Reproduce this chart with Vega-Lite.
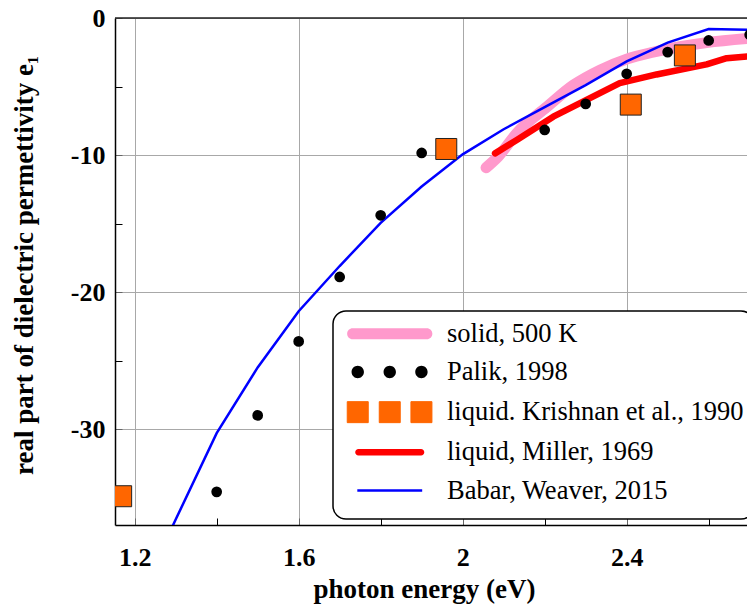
{
  "$schema": "https://vega.github.io/schema/vega-lite/v6.json",
  "width": 632,
  "height": 507,
  "autosize": {"type": "none"},
  "padding": {"left": 115, "top": 18, "right": 0, "bottom": 79},
  "background": "white",
  "config": {
    "view": {"stroke": null},
    "font": "Liberation Serif",
    "axis": {
      "labelFont": "Liberation Serif",
      "labelFontWeight": "bold",
      "labelFontSize": 26,
      "labelColor": "black",
      "titleFont": "Liberation Serif",
      "titleFontWeight": "bold",
      "titleFontSize": 27,
      "titleColor": "black",
      "domainColor": "black",
      "domainWidth": 1.5,
      "tickSize": -7,
      "tickWidth": 1,
      "gridColor": "#a8a8a8",
      "gridWidth": 1
    }
  },
  "data": {
    "values": [
      {"series": "solid, 500 K", "e": 2.057, "eps": -10.93},
      {"series": "solid, 500 K", "e": 2.087, "eps": -10.1},
      {"series": "solid, 500 K", "e": 2.132, "eps": -8.4},
      {"series": "solid, 500 K", "e": 2.205, "eps": -6.5},
      {"series": "solid, 500 K", "e": 2.27, "eps": -4.9},
      {"series": "solid, 500 K", "e": 2.335, "eps": -3.8},
      {"series": "solid, 500 K", "e": 2.4, "eps": -3.0},
      {"series": "solid, 500 K", "e": 2.464, "eps": -2.5},
      {"series": "solid, 500 K", "e": 2.53, "eps": -2.1},
      {"series": "solid, 500 K", "e": 2.595, "eps": -1.8},
      {"series": "solid, 500 K", "e": 2.694, "eps": -1.5},
      {"series": "Palik, 1998", "e": 1.4, "eps": -34.58},
      {"series": "Palik, 1998", "e": 1.5, "eps": -29.0},
      {"series": "Palik, 1998", "e": 1.6, "eps": -23.6},
      {"series": "Palik, 1998", "e": 1.7, "eps": -18.9},
      {"series": "Palik, 1998", "e": 1.8, "eps": -14.4},
      {"series": "Palik, 1998", "e": 1.9, "eps": -9.85},
      {"series": "Palik, 1998", "e": 2.2, "eps": -8.17},
      {"series": "Palik, 1998", "e": 2.3, "eps": -6.27},
      {"series": "Palik, 1998", "e": 2.4, "eps": -4.07},
      {"series": "Palik, 1998", "e": 2.5, "eps": -2.49},
      {"series": "Palik, 1998", "e": 2.6, "eps": -1.64},
      {"series": "Palik, 1998", "e": 2.7, "eps": -1.22},
      {"series": "liquid. Krishnan et al., 1990", "e": 1.167, "eps": -34.9},
      {"series": "liquid. Krishnan et al., 1990", "e": 1.96, "eps": -9.56},
      {"series": "liquid. Krishnan et al., 1990", "e": 2.41, "eps": -6.32},
      {"series": "liquid. Krishnan et al., 1990", "e": 2.542, "eps": -2.73},
      {"series": "liquid, Miller, 1969", "e": 2.079, "eps": -9.88},
      {"series": "liquid, Miller, 1969", "e": 2.132, "eps": -8.9},
      {"series": "liquid, Miller, 1969", "e": 2.221, "eps": -7.2},
      {"series": "liquid, Miller, 1969", "e": 2.302, "eps": -5.98},
      {"series": "liquid, Miller, 1969", "e": 2.383, "eps": -4.75},
      {"series": "liquid, Miller, 1969", "e": 2.473, "eps": -4.12},
      {"series": "liquid, Miller, 1969", "e": 2.595, "eps": -3.38},
      {"series": "liquid, Miller, 1969", "e": 2.644, "eps": -2.93},
      {"series": "liquid, Miller, 1969", "e": 2.694, "eps": -2.81},
      {"series": "Babar, Weaver, 2015", "e": 1.2, "eps": -43.0},
      {"series": "Babar, Weaver, 2015", "e": 1.3, "eps": -36.6},
      {"series": "Babar, Weaver, 2015", "e": 1.4, "eps": -30.3},
      {"series": "Babar, Weaver, 2015", "e": 1.5, "eps": -25.5},
      {"series": "Babar, Weaver, 2015", "e": 1.6, "eps": -21.4},
      {"series": "Babar, Weaver, 2015", "e": 1.7, "eps": -18.1},
      {"series": "Babar, Weaver, 2015", "e": 1.8, "eps": -14.95},
      {"series": "Babar, Weaver, 2015", "e": 1.9, "eps": -12.3},
      {"series": "Babar, Weaver, 2015", "e": 2.0, "eps": -9.95},
      {"series": "Babar, Weaver, 2015", "e": 2.1, "eps": -8.12},
      {"series": "Babar, Weaver, 2015", "e": 2.2, "eps": -6.5},
      {"series": "Babar, Weaver, 2015", "e": 2.3, "eps": -4.9},
      {"series": "Babar, Weaver, 2015", "e": 2.4, "eps": -3.17},
      {"series": "Babar, Weaver, 2015", "e": 2.5, "eps": -1.8},
      {"series": "Babar, Weaver, 2015", "e": 2.6, "eps": -0.8},
      {"series": "Babar, Weaver, 2015", "e": 2.7, "eps": -0.86}
    ]
  },
  "layer": [
    {
      "transform": [{"filter": "datum.series == 'solid, 500 K'"}],
      "mark": {"type": "line", "strokeWidth": 11, "strokeCap": "round", "strokeJoin": "round", "interpolate": "monotone", "clip": true},
      "encoding": {
        "x": {"field": "e", "type": "quantitative", "scale": {"domain": [1.152, 2.6935], "nice": false, "zero": false},
          "axis": {
            "values": [1.2, 1.4, 1.6, 1.8, 2.0, 2.2, 2.4, 2.6],
            "format": "~g",
            "labelExpr": "round(datum.value*10) % 4 == 0 ? datum.label : ''",
            "grid": true,
            "gridOpacity": {"condition": {"test": "round(datum.value*10) % 4 == 0", "value": 1}, "value": 0},
            "tickColor": {"condition": {"test": "round(datum.value*10) % 4 == 0", "value": "#666666"}, "value": "black"},
            "labelPadding": 26,
            "title": "photon energy (eV)",
            "titlePadding": 6,
            "titleX": 309
          }},
        "y": {"field": "eps", "type": "quantitative", "scale": {"domain": [-37, 0], "nice": false, "zero": false},
          "axis": {
            "values": [-35, -30, -25, -20, -15, -10, -5, 0],
            "labelExpr": "datum.value % 10 == 0 ? '' + datum.value : ''",
            "grid": true,
            "gridOpacity": {"condition": {"test": "datum.value % 10 == 0", "value": 1}, "value": 0},
            "tickColor": {"condition": {"test": "datum.value % 10 == 0", "value": "#666666"}, "value": "black"},
            "labelPadding": 17,
            "title": "real part of dielectric permettivity e₁",
            "titlePadding": 32,
            "titleY": 247
          }},
        "color": {"field": "series", "type": "nominal",
          "scale": {"domain": ["solid, 500 K", "Palik, 1998", "liquid. Krishnan et al., 1990", "liquid, Miller, 1969", "Babar, Weaver, 2015"],
                    "range": ["#ff99cc", "#000000", "#ff6600", "#ff0000", "#0000ff"]},
          "legend": {
            "orient": "none", "legendX": 218, "legendY": 293,
            "title": null,
            "padding": 9.5,
            "fillColor": "white", "strokeColor": "black", "cornerRadius": 13,
            "symbolSize": 1406, "rowPadding": 0.2,
            "labelFont": "Liberation Serif", "labelFontSize": 26.5, "labelFontWeight": "normal", "labelColor": "black",
            "symbolOffset": 34, "labelOffset": 44, "labelLimit": 0,
            "encode": {
              "legend": {"update": {"strokeWidth": {"value": 1.5}}},
              "symbols": {"update": {
              "shape": {"signal": "(datum.value == 'Palik, 1998' ? 'M-2.037,0 A0.33,0.33 0 1,0 -1.377,0 A0.33,0.33 0 1,0 -2.037,0 Z M-0.33,0 A0.33,0.33 0 1,0 0.33,0 A0.33,0.33 0 1,0 -0.33,0 Z M1.36,0 A0.33,0.33 0 1,0 2.02,0 A0.33,0.33 0 1,0 1.36,0 Z' : datum.value == 'liquid. Krishnan et al., 1990' ? 'M-2.267,-0.56 L-1.147,-0.56 L-1.147,0.56 L-2.267,0.56 Z M-0.56,-0.56 L0.56,-0.56 L0.56,0.56 L-0.56,0.56 Z M1.13,-0.56 L2.25,-0.56 L2.25,0.56 L1.13,0.56 Z' : datum.value == 'solid, 500 K' ? 'M-1.98,-0.293 L1.98,-0.293 A0.293,0.293 0 0,1 1.98,0.293 L-1.98,0.293 A0.293,0.293 0 0,1 -1.98,-0.293 Z' : datum.value == 'liquid, Miller, 1969' ? 'M-1.67,-0.173 L1.67,-0.173 A0.173,0.173 0 0,1 1.67,0.173 L-1.67,0.173 A0.173,0.173 0 0,1 -1.67,-0.173 Z' : 'M-1.73,-0.067 L1.73,-0.067 L1.73,0.067 L-1.73,0.067 Z') + ' M0,-1 L0,-1 M0,1 L0,1'"},
              "fill": {"signal": "datum.value == 'Palik, 1998' ? 'black' : datum.value == 'liquid. Krishnan et al., 1990' ? '#ff6600' : datum.value == 'solid, 500 K' ? '#ff99cc' : datum.value == 'liquid, Miller, 1969' ? '#ff0000' : '#0000ff'"},
              "stroke": {"signal": "datum.value == 'liquid. Krishnan et al., 1990' ? '#222222' : 'transparent'"},
              "strokeWidth": {"signal": "datum.value == 'liquid. Krishnan et al., 1990' ? 1 : 0"},
              "size": {"value": 1406},
              "opacity": {"value": 1}
            }}}
          }}
      }
    },
    {
      "transform": [{"filter": "datum.series == 'liquid, Miller, 1969'"}],
      "mark": {"type": "line", "strokeWidth": 6.5, "strokeCap": "round", "strokeJoin": "round", "clip": true},
      "encoding": {
        "x": {"field": "e", "type": "quantitative"},
        "y": {"field": "eps", "type": "quantitative"},
        "color": {"field": "series", "type": "nominal"}
      }
    },
    {
      "transform": [{"filter": "datum.series == 'Babar, Weaver, 2015'"}],
      "mark": {"type": "line", "strokeWidth": 2.5, "clip": true},
      "encoding": {
        "x": {"field": "e", "type": "quantitative"},
        "y": {"field": "eps", "type": "quantitative"},
        "color": {"field": "series", "type": "nominal"}
      }
    },
    {
      "transform": [{"filter": "datum.series == 'Palik, 1998'"}],
      "mark": {"type": "point", "filled": true, "size": 115, "opacity": 1, "clip": true},
      "encoding": {
        "x": {"field": "e", "type": "quantitative"},
        "y": {"field": "eps", "type": "quantitative"},
        "color": {"field": "series", "type": "nominal"}
      }
    },
    {
      "transform": [{"filter": "datum.series == 'liquid. Krishnan et al., 1990'"}],
      "mark": {"type": "point", "shape": "square", "filled": true, "size": 441, "opacity": 1, "stroke": "#222222", "strokeWidth": 1, "clip": true},
      "encoding": {
        "x": {"field": "e", "type": "quantitative"},
        "y": {"field": "eps", "type": "quantitative"},
        "color": {"field": "series", "type": "nominal"}
      }
    },
    {
      "data": {"values": [{}]},
      "mark": {"type": "rule", "color": "#222222", "strokeWidth": 1.5},
      "encoding": {"y": {"datum": 0}}
    }
  ]
}
